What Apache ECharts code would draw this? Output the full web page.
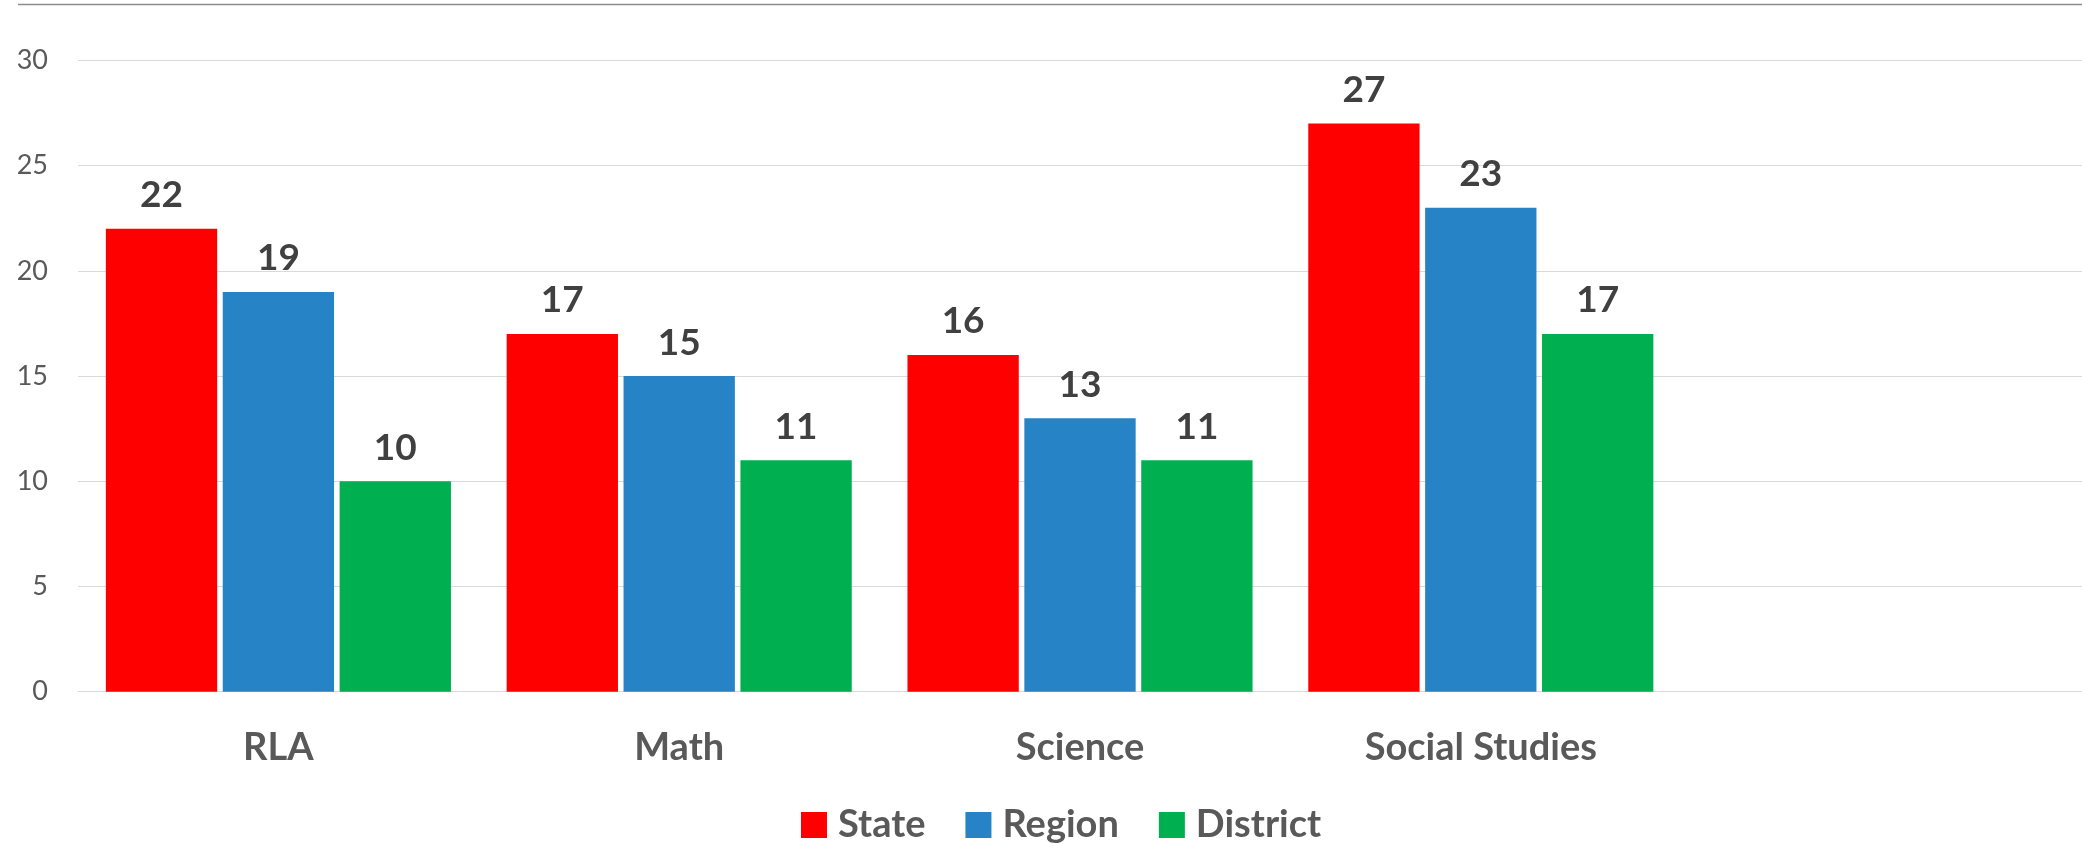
<!DOCTYPE html>
<html>
<head>
<meta charset="utf-8">
<script src="https://cdn.jsdelivr.net/npm/echarts@6/dist/echarts.min.js"></script>
<style>
html,body{margin:0;padding:0;background:#fff;}
#chart{width:2082px;height:843px;}
</style>
</head>
<body>
<div id="chart"></div>
<script>
const categories = ['RLA', 'Math', 'Science', 'Social Studies', ''];
const stateValues = [22, 17, 16, 27];
const regionValues = [19, 15, 13, 23];
const districtValues = [10, 11, 11, 17];
const seriesNames = ['State', 'Region', 'District'];
const seriesColors = ['#FF0000', '#2683C6', '#00B050'];

const FONT = 'Lato';
const chart = echarts.init(document.getElementById('chart'), null, {renderer: 'canvas'});

function makeSeries(name, data, color) {
  return {
    name: name,
    type: 'bar',
    data: data,
    itemStyle: {color: color},
    barGap: '5%',
    barCategoryGap: '13.9%',
    label: {
      show: true,
      position: 'top',
      distance: 15,
      color: '#404040',
      fontFamily: FONT,
      fontWeight: 'bold',
      fontSize: 37
    }
  };
}

chart.setOption({
  animation: false,
  backgroundColor: '#ffffff',
  graphic: [{
    type: 'line',
    shape: {x1: 18, y1: 4.5, x2: 2082, y2: 4.5},
    style: {stroke: '#8c8c8c', lineWidth: 1.5}
  }],
  grid: {left: 78, right: 0, top: 60.5, bottom: 151.3, containLabel: false},
  legend: {
    data: seriesNames,
    left: 796,
    top: 801,
    itemWidth: 26,
    itemHeight: 26,
    itemGap: 40,
    icon: 'rect',
    textStyle: {
      color: '#595959',
      fontFamily: FONT,
      fontWeight: 'bold',
      fontSize: 38,
      padding: [0, 0, 0, 6]
    }
  },
  xAxis: {
    type: 'category',
    data: categories,
    axisLine: {show: true, lineStyle: {color: '#D9D9D9', width: 1}},
    axisTick: {show: false},
    axisLabel: {
      color: '#595959',
      fontFamily: FONT,
      fontWeight: 'bold',
      fontSize: 38,
      margin: 37
    }
  },
  yAxis: {
    type: 'value',
    min: 0,
    max: 30,
    interval: 5,
    axisLine: {show: false},
    axisTick: {show: false},
    splitLine: {lineStyle: {color: '#D9D9D9', width: 1}},
    axisLabel: {
      color: '#595959',
      fontFamily: FONT,
      fontSize: 27,
      margin: 30
    }
  },
  series: [
    makeSeries(seriesNames[0], stateValues, seriesColors[0]),
    makeSeries(seriesNames[1], regionValues, seriesColors[1]),
    makeSeries(seriesNames[2], districtValues, seriesColors[2])
  ]
});
</script>
</body>
</html>
